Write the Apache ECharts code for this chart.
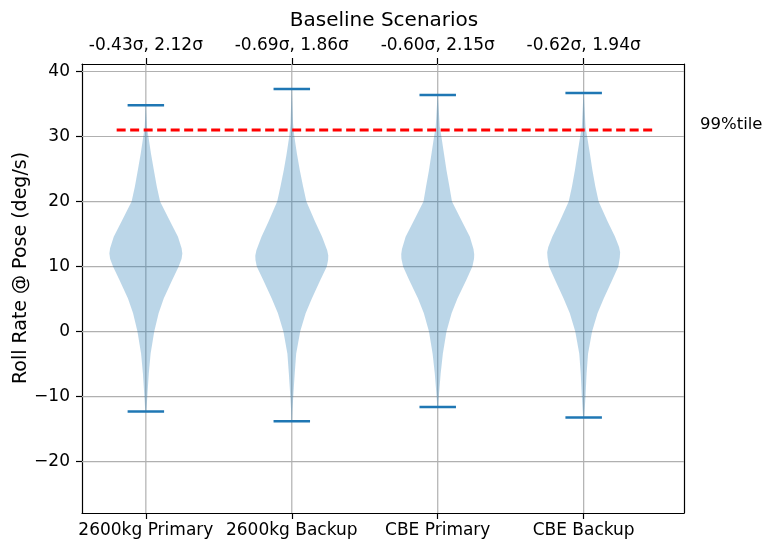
<!DOCTYPE html>
<html>
<head>
<meta charset="utf-8">
<script src="https://cdn.jsdelivr.net/npm/echarts@6/dist/echarts.min.js"></script>
<style>
  html, body { margin: 0; padding: 0; background: #ffffff; }
  #chart { width: 764px; height: 544px; }
</style>
</head>
<body>
<div id="chart"></div>
<script>
// Scenario names along the bottom, spread summary along the top
const categories = ['2600kg Primary', '2600kg Backup', 'CBE Primary', 'CBE Backup'];
const positions = [1, 2, 3, 4];
const sigmaLabels = ['-0.43σ, 2.12σ', '-0.69σ, 1.86σ', '-0.60σ, 2.15σ', '-0.62σ, 1.94σ'];

// Extremes of each distribution (deg/s)
const minValues = [-12.3, -13.8, -11.6, -13.2];
const maxValues = [34.8, 37.3, 36.4, 36.7];

// 99th percentile reference level
const percentile99 = 31.0;

// Y tick values
const yTicks = [-20, -10, 0, 10, 20, 30, 40];

// Kernel density estimates: [roll rate, density relative to peak]
const density2600Primary = [
  [-12.3, 0.015], [-10, 0.04], [-6.5, 0.08], [-3.4, 0.13], [0, 0.23], [2.8, 0.35],
  [5.1, 0.49], [7.9, 0.72], [10, 0.90], [11.2, 0.98], [12.0, 1.0], [12.8, 0.98],
  [14.6, 0.88], [16.9, 0.67], [20, 0.39], [22.3, 0.30], [24.8, 0.22], [27.4, 0.14],
  [30, 0.07], [31.5, 0.03], [34.8, 0.005]
];
const density2600Backup = [
  [-13.8, 0.01], [-12, 0.02], [-10, 0.04], [-6.5, 0.08], [-3.4, 0.12], [0, 0.23],
  [2.8, 0.38], [5.1, 0.55], [7.9, 0.78], [10, 0.96], [11.0, 0.995], [11.7, 1.0],
  [12.5, 0.97], [14.6, 0.83], [16.9, 0.64], [20, 0.40], [22.3, 0.31], [24.8, 0.22],
  [27.4, 0.14], [30, 0.07], [32, 0.035], [37.3, 0.005]
];
const densityCbePrimary = [
  [-11.6, 0.015], [-10, 0.03], [-6.5, 0.08], [-3.4, 0.14], [0, 0.24], [2.8, 0.38],
  [5.1, 0.54], [7.9, 0.78], [10, 0.95], [11.2, 0.995], [11.9, 1.0], [12.7, 0.98],
  [14.6, 0.88], [16.9, 0.67], [20, 0.39], [22.3, 0.32], [24.8, 0.24], [27.4, 0.17],
  [30, 0.10], [31.5, 0.055], [36.4, 0.005]
];
const densityCbeBackup = [
  [-13.2, 0.015], [-10, 0.05], [-6.5, 0.08], [-3.4, 0.12], [0, 0.23], [2.8, 0.38],
  [5.1, 0.55], [7.9, 0.78], [10, 0.95], [11.4, 0.99], [12.2, 1.0], [13.0, 0.97],
  [14.6, 0.86], [16.9, 0.66], [20, 0.41], [22.3, 0.32], [24.8, 0.24], [27.4, 0.17],
  [30, 0.095], [31.5, 0.05], [36.7, 0.005]
];
const densities = [density2600Primary, density2600Backup, densityCbePrimary, densityCbeBackup];

// Layout constants
const FONT = 'DejaVu Sans';
const X_MIN = 0.5625, X_MAX = 4.6875;
const Y_MIN = -27.9, Y_MAX = 41.15;
const VIOLIN_HALF = 0.25;   // half width of a violin at peak density, x units
const CAP_HALF = 0.125;     // half length of the extrema caps
const LINE_X0 = 0.8, LINE_X1 = 4.5;

const chart = echarts.init(document.getElementById('chart'), null, { renderer: 'canvas' });

const axisLineStyle = { color: '#000000', width: 1.2 };
const tickLabelStyle = { color: '#000000', fontSize: 17, fontFamily: FONT };

function hLine(api, y, x0, x1, style) {
  const a = api.coord([x0, y]);
  const b = api.coord([x1, y]);
  return { type: 'line', shape: { x1: a[0], y1: a[1], x2: b[0], y2: b[1] }, style: style };
}

const option = {
  animation: false,
  backgroundColor: '#ffffff',
  title: {
    text: 'Baseline Scenarios',
    left: 379,
    textAlign: 'center',
    top: 6,
    textStyle: { color: '#000000', fontSize: 20, fontWeight: 'normal', fontFamily: FONT }
  },
  grid: { left: 82, right: 80, top: 64, bottom: 31, containLabel: false },
  xAxis: [
    {
      type: 'value', position: 'bottom', min: X_MIN, max: X_MAX,
      axisLine: { show: true, onZero: false, lineStyle: axisLineStyle },
      axisTick: { show: true, customValues: positions, length: 6, lineStyle: axisLineStyle },
      axisLabel: Object.assign({
        customValues: positions, margin: 9,
        formatter: v => categories[positions.indexOf(Math.round(v))]
      }, tickLabelStyle),
      splitLine: { show: false }
    },
    {
      type: 'value', position: 'top', min: X_MIN, max: X_MAX,
      axisLine: { show: true, onZero: false, lineStyle: axisLineStyle },
      axisTick: { show: true, customValues: positions, length: 6, lineStyle: axisLineStyle },
      axisLabel: Object.assign({
        customValues: positions, margin: 10,
        formatter: v => sigmaLabels[positions.indexOf(Math.round(v))]
      }, tickLabelStyle),
      splitLine: { show: false }
    }
  ],
  yAxis: [
    {
      type: 'value', position: 'left', min: Y_MIN, max: Y_MAX,
      axisLine: { show: true, onZero: false, lineStyle: axisLineStyle },
      axisTick: { show: true, customValues: yTicks, length: 6, lineStyle: axisLineStyle },
      axisLabel: Object.assign({
        customValues: yTicks, margin: 12,
        formatter: v => String(Math.round(v)).replace('-', '\u2212')
      }, tickLabelStyle),
      splitLine: { show: false }
    },
    {
      type: 'value', position: 'right', min: Y_MIN, max: Y_MAX,
      axisLine: { show: true, onZero: false, lineStyle: axisLineStyle },
      axisTick: { show: false },
      axisLabel: { show: false },
      splitLine: { show: false }
    }
  ],
  graphic: [
    {
      type: 'text', x: 21, y: 268, rotation: Math.PI / 2,
      style: {
        text: 'Roll Rate @ Pose (deg/s)', fill: '#000000', fontSize: 19, fontFamily: FONT,
        textAlign: 'center', textVerticalAlign: 'middle'
      }
    },
    {
      type: 'text', x: 700, y: 125,
      style: {
        text: '99%tile', fill: '#000000', fontSize: 16.5, fontFamily: FONT,
        textAlign: 'left', textVerticalAlign: 'middle'
      }
    }
  ],
  series: [
    // horizontal grid lines
    {
      type: 'custom', silent: true, z: 1,
      data: yTicks.map(v => [X_MIN, v]),
      encode: { x: 0, y: 1 },
      renderItem: (params, api) => hLine(api, api.value(1), X_MIN, X_MAX,
        { stroke: '#b0b0b0', lineWidth: 1.2 })
    },
    // vertical grid lines
    {
      type: 'custom', silent: true, z: 1,
      data: positions.map(p => [p, Y_MIN]),
      encode: { x: 0, y: 1 },
      renderItem: (params, api) => {
        const a = api.coord([api.value(0), Y_MIN]);
        const b = api.coord([api.value(0), Y_MAX]);
        return { type: 'line', shape: { x1: a[0], y1: a[1], x2: b[0], y2: b[1] },
                 style: { stroke: '#b0b0b0', lineWidth: 1.2 } };
      }
    },
    // violin bodies
    {
      type: 'custom', silent: true, z: 2,
      data: positions.map((p, i) => [p, i]),
      encode: { x: 0 },
      renderItem: (params, api) => {
        const pos = api.value(0);
        const prof = densities[api.value(1)];
        const pts = [];
        for (let k = 0; k < prof.length; k++) {
          pts.push(api.coord([pos + prof[k][1] * VIOLIN_HALF, prof[k][0]]));
        }
        for (let k = prof.length - 1; k >= 0; k--) {
          pts.push(api.coord([pos - prof[k][1] * VIOLIN_HALF, prof[k][0]]));
        }
        return { type: 'polygon', shape: { points: pts },
                 style: { fill: 'rgba(31,119,180,0.3)', stroke: null } };
      }
    },
    // extrema caps
    {
      type: 'custom', silent: true, z: 3,
      data: positions.map((p, i) => [p, minValues[i], maxValues[i]]),
      encode: { x: 0, y: [1, 2] },
      renderItem: (params, api) => {
        const pos = api.value(0);
        const st = { stroke: '#1f77b4', lineWidth: 2.5 };
        return { type: 'group', children: [
          hLine(api, api.value(1), pos - CAP_HALF, pos + CAP_HALF, st),
          hLine(api, api.value(2), pos - CAP_HALF, pos + CAP_HALF, st)
        ] };
      }
    },
    // 99th percentile line
    {
      type: 'line', silent: true, z: 4, symbol: 'none',
      data: [[LINE_X0, percentile99], [LINE_X1, percentile99]],
      lineStyle: { color: '#ff0000', width: 2.8, type: [9, 4.5] }
    }
  ]
};

chart.setOption(option);
</script>
</body>
</html>
